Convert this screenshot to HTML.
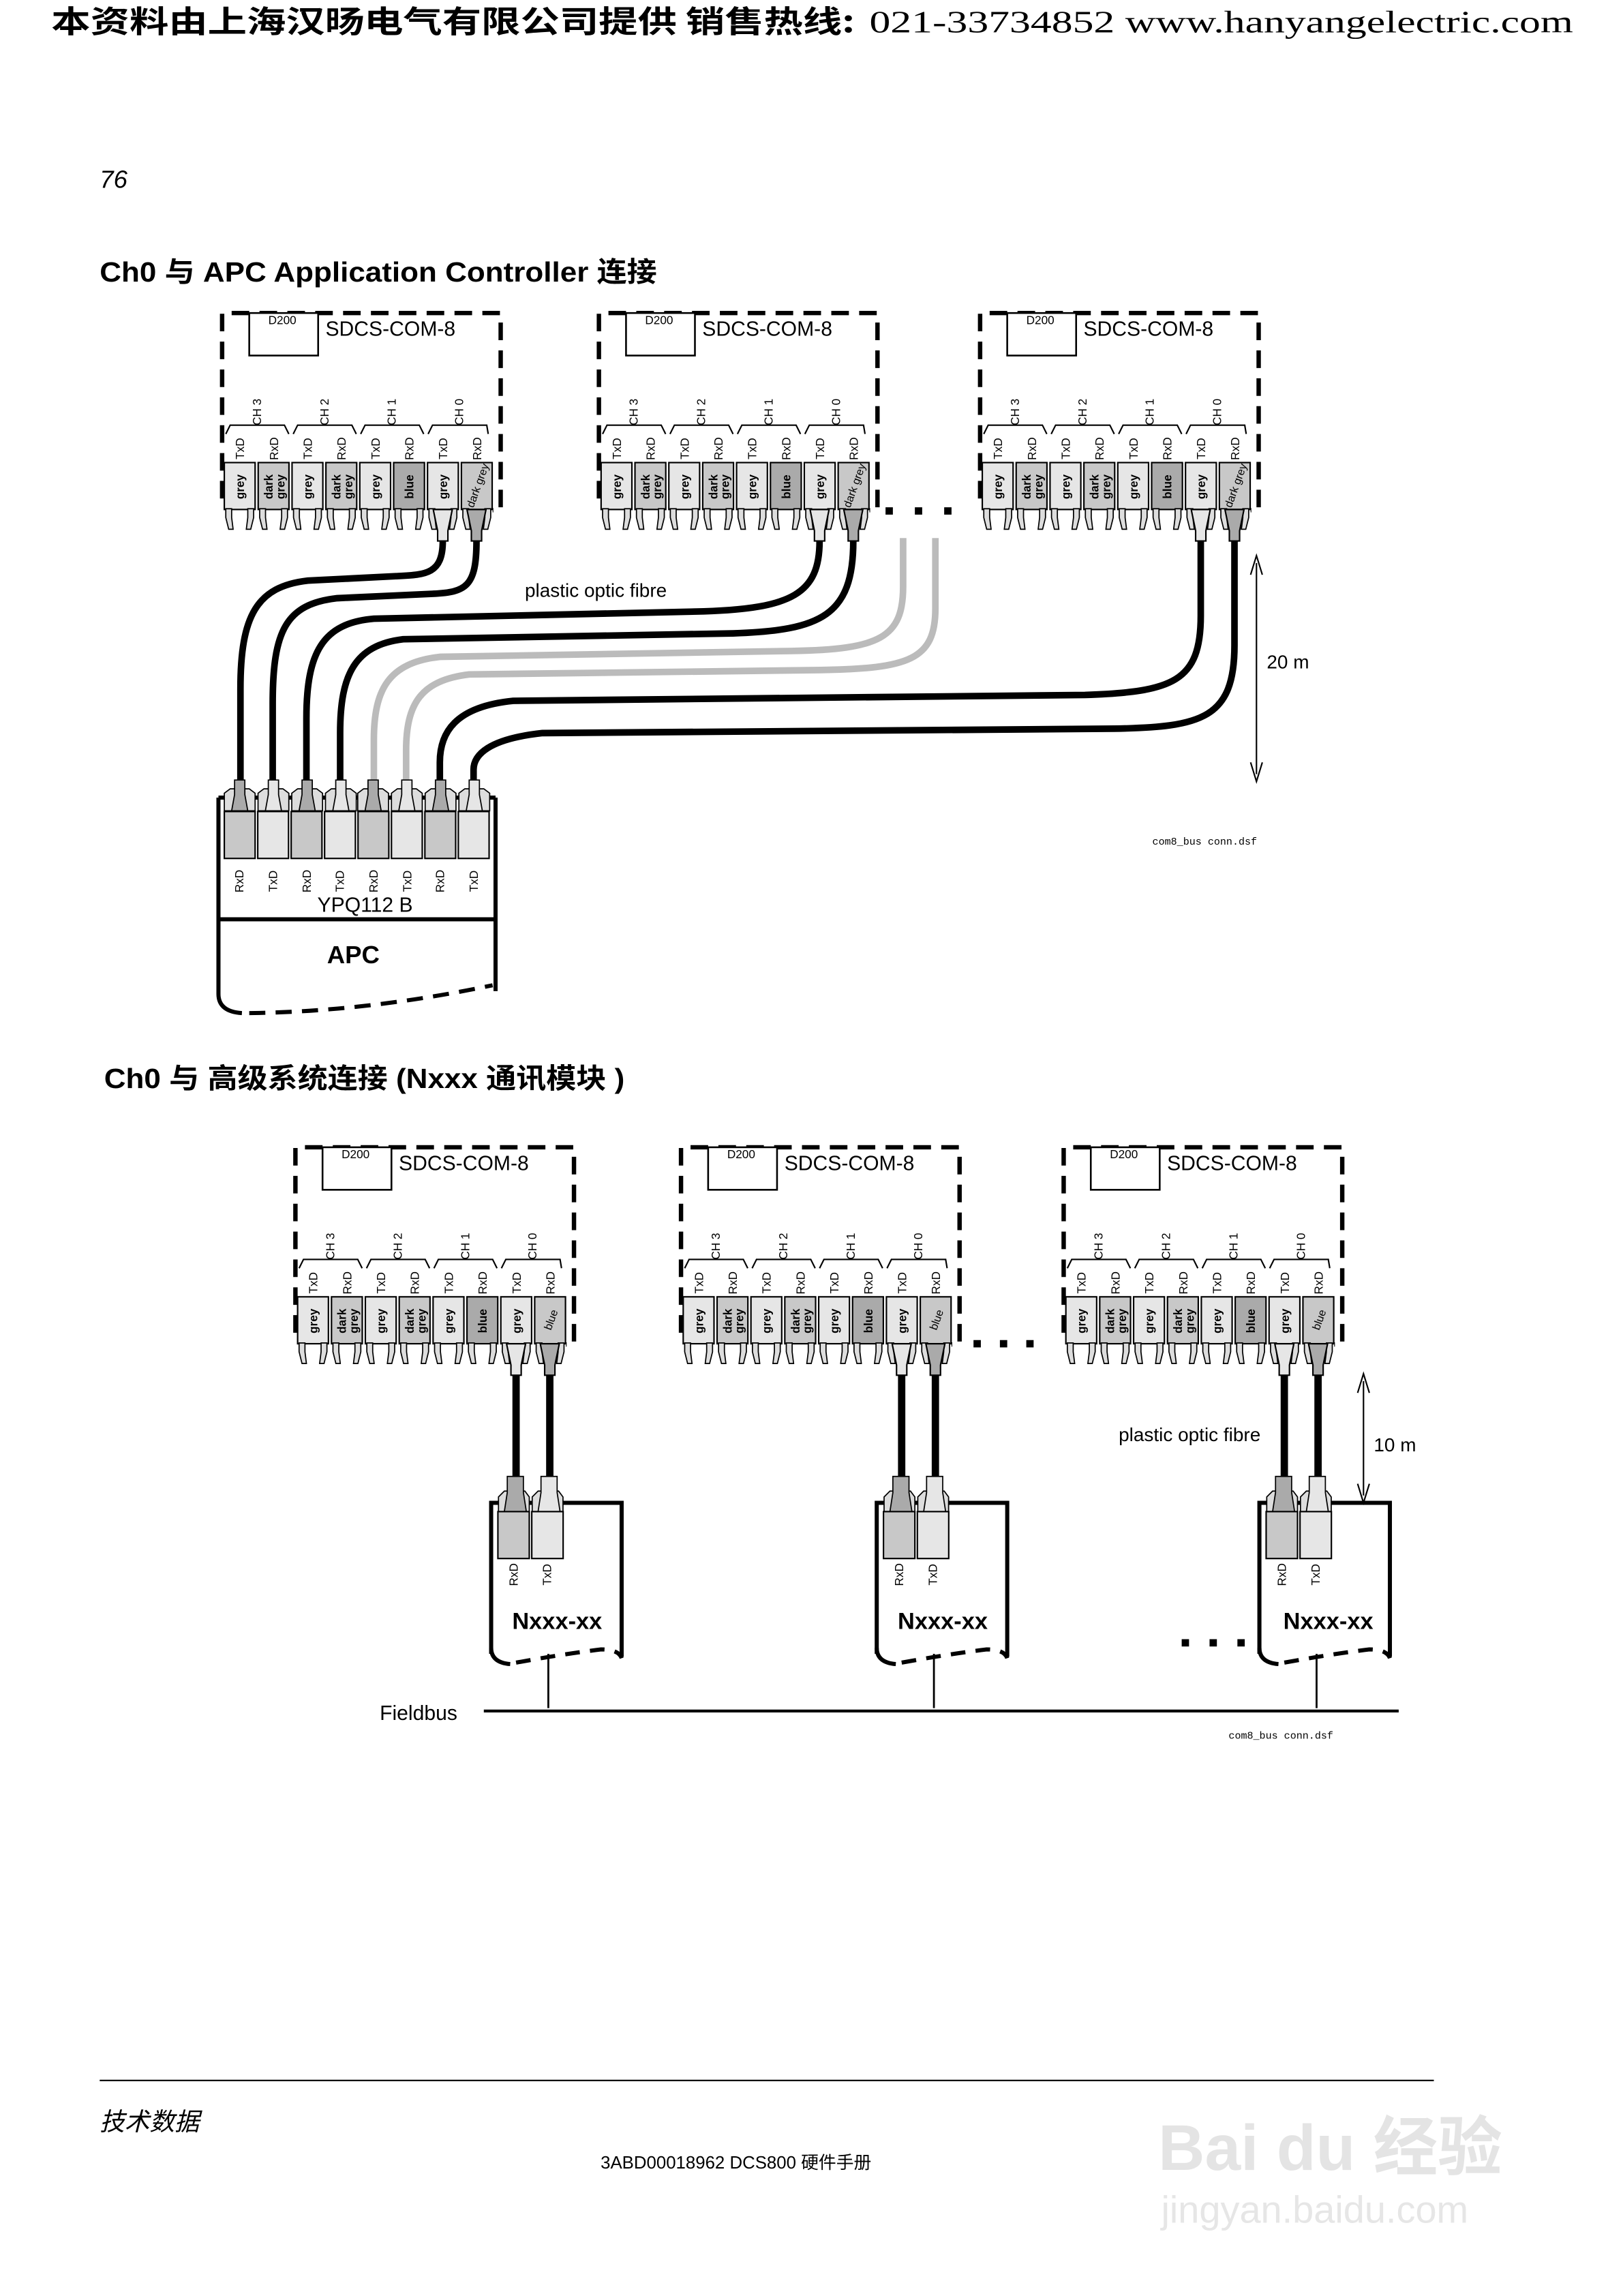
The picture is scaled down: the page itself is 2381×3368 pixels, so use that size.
<!DOCTYPE html>
<html><head><meta charset="utf-8"><style>
html,body{margin:0;padding:0;background:#fff}
svg{display:block}
text{font-family:"Liberation Sans","Noto Sans CJK SC",sans-serif;fill:#000}
.s8{font-size:8px}.s7{font-size:7.5px}
.b8{font-size:8px;font-weight:bold}
.s14{font-size:14px}
.ds{fill:none;stroke:#000;stroke-width:3;stroke-dasharray:12 7}
.blk{stroke:#000;stroke-width:1}
.leg{fill:#ddd;stroke:#000;stroke-width:0.8}
.br{fill:none;stroke:#000;stroke-width:1}
</style></head><body>
<svg width="2381" height="3368" viewBox="0 0 1107 1566" preserveAspectRatio="none" xmlns="http://www.w3.org/2000/svg">
<defs>
<g id="legs">
<path class="leg" d="M1 135 L5 135 L5 141 L6 149 L3 149 L1 141Z M16 135 L20 135 L20 141 L18 149 L15 149 L16 141Z"/>
</g>
<g id="modshape">
<path class="ds" d="M1.5 128 L1.5 1.5 L191.5 1.5 L191.5 136 L186 136"/>
<rect x="20" y="1.5" width="47" height="29" fill="#fff" stroke="#000" stroke-width="1.2"/>
<path class="br" d="M4 84 L7 78 L44 78 L47 84 M50 84 L53 78 L90 78 L93 84 M96 84 L99 78 L136 78 L139 84 M142 84 L145 78 L182 78 L183 84"/>
<rect class="blk" x="3" y="103.5" width="21" height="32" fill="#e6e6e6"/>
<rect class="blk" x="26.1" y="103.5" width="21" height="32" fill="#c8c8c8"/>
<rect class="blk" x="49.2" y="103.5" width="21" height="32" fill="#e6e6e6"/>
<rect class="blk" x="72.3" y="103.5" width="21" height="32" fill="#c8c8c8"/>
<rect class="blk" x="95.4" y="103.5" width="21" height="32" fill="#e6e6e6"/>
<rect class="blk" x="118.5" y="103.5" width="21" height="32" fill="#aaaaaa"/>
<rect class="blk" x="141.6" y="103.5" width="21" height="32" fill="#e6e6e6"/>
<rect class="blk" x="164.7" y="103.5" width="21" height="32" fill="#c8c8c8"/>
<use href="#legs" x="3"/><use href="#legs" x="26.1"/><use href="#legs" x="49.2"/><use href="#legs" x="72.3"/>
<use href="#legs" x="95.4"/><use href="#legs" x="118.5"/><use href="#legs" x="141.6"/><use href="#legs" x="164.7"/>
<path d="M145.5 135.5 L158.5 135.5 L155.5 150 L155.5 157 L148.5 157 L148.5 150Z" fill="#e6e6e6" stroke="#000" stroke-width="1"/>
<path d="M168.5 135.5 L181.5 135.5 L178.5 150 L178.5 157 L171.5 157 L171.5 150Z" fill="#aaaaaa" stroke="#000" stroke-width="1"/>
</g>
</defs>

<!-- header -->
<text x="35" y="22" style="font-size:21px;font-weight:bold;font-family:'Noto Sans CJK SC',sans-serif" textLength="548" lengthAdjust="spacingAndGlyphs">本资料由上海汉旸电气有限公司提供 销售热线:</text>
<text x="593" y="22" style="font-size:21px;font-family:'Liberation Serif',serif" textLength="480" lengthAdjust="spacingAndGlyphs">021-33734852   www.hanyangelectric.com</text>

<text x="68" y="128" style="font-size:17px;font-style:italic">76</text>
<text x="68" y="192" style="font-size:19px;font-weight:bold" textLength="380" lengthAdjust="spacingAndGlyphs">Ch0 与 APC Application Controller 连接</text>
<text x="71" y="742" style="font-size:19px;font-weight:bold" textLength="355" lengthAdjust="spacingAndGlyphs">Ch0 与 高级系统连接 (Nxxx 通讯模块 )</text>

<!-- TOP MODULES -->
<g transform="translate(150,212)">
<use href="#modshape"/>
<text x="33" y="9" class="s8">D200</text><text x="72" y="17" class="s14">SDCS-COM-8</text>
<text class="s8" text-anchor="middle" transform="translate(28,69) rotate(-90)">CH 3</text>
<text class="s8" text-anchor="middle" transform="translate(74,69) rotate(-90)">CH 2</text>
<text class="s8" text-anchor="middle" transform="translate(120,69) rotate(-90)">CH 1</text>
<text class="s8" text-anchor="middle" transform="translate(166,69) rotate(-90)">CH 0</text>
<text class="s8" text-anchor="middle" transform="translate(16.5,94) rotate(-90)">TxD</text>
<text class="s8" text-anchor="middle" transform="translate(39.6,94) rotate(-90)">RxD</text>
<text class="s8" text-anchor="middle" transform="translate(62.7,94) rotate(-90)">TxD</text>
<text class="s8" text-anchor="middle" transform="translate(85.8,94) rotate(-90)">RxD</text>
<text class="s8" text-anchor="middle" transform="translate(108.9,94) rotate(-90)">TxD</text>
<text class="s8" text-anchor="middle" transform="translate(132,94) rotate(-90)">RxD</text>
<text class="s8" text-anchor="middle" transform="translate(155.1,94) rotate(-90)">TxD</text>
<text class="s8" text-anchor="middle" transform="translate(178.2,94) rotate(-90)">RxD</text>
<text class="b8" text-anchor="middle" transform="translate(16.5,120) rotate(-90)">grey</text>
<text class="b8" text-anchor="middle" transform="translate(36,120) rotate(-90)">dark</text><text class="b8" text-anchor="middle" transform="translate(44,120) rotate(-90)">grey</text>
<text class="b8" text-anchor="middle" transform="translate(62.7,120) rotate(-90)">grey</text>
<text class="b8" text-anchor="middle" transform="translate(82.3,120) rotate(-90)">dark</text><text class="b8" text-anchor="middle" transform="translate(90.3,120) rotate(-90)">grey</text>
<text class="b8" text-anchor="middle" transform="translate(108.9,120) rotate(-90)">grey</text>
<text class="b8" text-anchor="middle" transform="translate(132,120) rotate(-90)">blue</text>
<text class="b8" text-anchor="middle" transform="translate(155.1,120) rotate(-90)">grey</text>
<text class="s7" text-anchor="middle" transform="translate(178.2,120) rotate(-70)">dark grey</text>
</g>
<g transform="translate(407,212)">
<use href="#modshape"/>
<text x="33" y="9" class="s8">D200</text><text x="72" y="17" class="s14">SDCS-COM-8</text>
<text class="s8" text-anchor="middle" transform="translate(28,69) rotate(-90)">CH 3</text>
<text class="s8" text-anchor="middle" transform="translate(74,69) rotate(-90)">CH 2</text>
<text class="s8" text-anchor="middle" transform="translate(120,69) rotate(-90)">CH 1</text>
<text class="s8" text-anchor="middle" transform="translate(166,69) rotate(-90)">CH 0</text>
<text class="s8" text-anchor="middle" transform="translate(16.5,94) rotate(-90)">TxD</text>
<text class="s8" text-anchor="middle" transform="translate(39.6,94) rotate(-90)">RxD</text>
<text class="s8" text-anchor="middle" transform="translate(62.7,94) rotate(-90)">TxD</text>
<text class="s8" text-anchor="middle" transform="translate(85.8,94) rotate(-90)">RxD</text>
<text class="s8" text-anchor="middle" transform="translate(108.9,94) rotate(-90)">TxD</text>
<text class="s8" text-anchor="middle" transform="translate(132,94) rotate(-90)">RxD</text>
<text class="s8" text-anchor="middle" transform="translate(155.1,94) rotate(-90)">TxD</text>
<text class="s8" text-anchor="middle" transform="translate(178.2,94) rotate(-90)">RxD</text>
<text class="b8" text-anchor="middle" transform="translate(16.5,120) rotate(-90)">grey</text>
<text class="b8" text-anchor="middle" transform="translate(36,120) rotate(-90)">dark</text><text class="b8" text-anchor="middle" transform="translate(44,120) rotate(-90)">grey</text>
<text class="b8" text-anchor="middle" transform="translate(62.7,120) rotate(-90)">grey</text>
<text class="b8" text-anchor="middle" transform="translate(82.3,120) rotate(-90)">dark</text><text class="b8" text-anchor="middle" transform="translate(90.3,120) rotate(-90)">grey</text>
<text class="b8" text-anchor="middle" transform="translate(108.9,120) rotate(-90)">grey</text>
<text class="b8" text-anchor="middle" transform="translate(132,120) rotate(-90)">blue</text>
<text class="b8" text-anchor="middle" transform="translate(155.1,120) rotate(-90)">grey</text>
<text class="s7" text-anchor="middle" transform="translate(178.2,120) rotate(-70)">dark grey</text>
</g>
<g transform="translate(667,212)">
<use href="#modshape"/>
<text x="33" y="9" class="s8">D200</text><text x="72" y="17" class="s14">SDCS-COM-8</text>
<text class="s8" text-anchor="middle" transform="translate(28,69) rotate(-90)">CH 3</text>
<text class="s8" text-anchor="middle" transform="translate(74,69) rotate(-90)">CH 2</text>
<text class="s8" text-anchor="middle" transform="translate(120,69) rotate(-90)">CH 1</text>
<text class="s8" text-anchor="middle" transform="translate(166,69) rotate(-90)">CH 0</text>
<text class="s8" text-anchor="middle" transform="translate(16.5,94) rotate(-90)">TxD</text>
<text class="s8" text-anchor="middle" transform="translate(39.6,94) rotate(-90)">RxD</text>
<text class="s8" text-anchor="middle" transform="translate(62.7,94) rotate(-90)">TxD</text>
<text class="s8" text-anchor="middle" transform="translate(85.8,94) rotate(-90)">RxD</text>
<text class="s8" text-anchor="middle" transform="translate(108.9,94) rotate(-90)">TxD</text>
<text class="s8" text-anchor="middle" transform="translate(132,94) rotate(-90)">RxD</text>
<text class="s8" text-anchor="middle" transform="translate(155.1,94) rotate(-90)">TxD</text>
<text class="s8" text-anchor="middle" transform="translate(178.2,94) rotate(-90)">RxD</text>
<text class="b8" text-anchor="middle" transform="translate(16.5,120) rotate(-90)">grey</text>
<text class="b8" text-anchor="middle" transform="translate(36,120) rotate(-90)">dark</text><text class="b8" text-anchor="middle" transform="translate(44,120) rotate(-90)">grey</text>
<text class="b8" text-anchor="middle" transform="translate(62.7,120) rotate(-90)">grey</text>
<text class="b8" text-anchor="middle" transform="translate(82.3,120) rotate(-90)">dark</text><text class="b8" text-anchor="middle" transform="translate(90.3,120) rotate(-90)">grey</text>
<text class="b8" text-anchor="middle" transform="translate(108.9,120) rotate(-90)">grey</text>
<text class="b8" text-anchor="middle" transform="translate(132,120) rotate(-90)">blue</text>
<text class="b8" text-anchor="middle" transform="translate(155.1,120) rotate(-90)">grey</text>
<text class="s7" text-anchor="middle" transform="translate(178.2,120) rotate(-70)">dark grey</text>
</g>
<g fill="#000"><rect x="604" y="346" width="5" height="5"/><rect x="624" y="346" width="5" height="5"/><rect x="644" y="346" width="5" height="5"/></g>

<!-- cables top -->
<g fill="none" stroke-width="4.5" stroke-linecap="butt">
<path stroke="#000" d="M302 369 C302 392, 290 392, 270 393 L210 396 C175 400, 164 420, 164 470 L164 532"/>
<path stroke="#000" d="M325 369 C325 400, 318 404, 295 405 L230 408 C195 412, 186 430, 186 480 L186 532"/>
<path stroke="#000" d="M559 369 C559 405, 540 415, 480 417 L255 422 C220 425, 209 445, 209 490 L209 532"/>
<path stroke="#000" d="M582 369 C582 420, 560 430, 500 432 L275 436 C242 440, 232 460, 232 500 L232 532"/>
<path stroke="#bbb" d="M616 367 L616 400 C616 435, 600 443, 540 444 L300 448 C265 452, 255 470, 255 505 L255 532"/>
<path stroke="#bbb" d="M638 367 L638 415 C638 450, 620 456, 560 457 L320 460 C287 464, 277 480, 277 512 L277 532"/>
<path stroke="#000" d="M819 369 L819 420 C819 465, 800 472, 740 474 L350 478 C310 482, 300 500, 300 520 L300 532"/>
<path stroke="#000" d="M842 369 L842 440 C842 490, 820 496, 760 497 L370 500 C333 504, 323 515, 323 525 L323 532"/>
</g>
<text x="358" y="407" style="font-size:13px">plastic optic fibre</text>
<line x1="857" y1="384" x2="857" y2="528" stroke="#000" stroke-width="1"/>
<path d="M853 392 L857 379 L861 392 M853 520 L857 533 L861 520" fill="none" stroke="#000" stroke-width="1"/>
<text x="864" y="456" style="font-size:13px">20 m</text>
<text x="786" y="576" style="font-size:7px;font-family:'Liberation Mono',monospace">com8_bus conn.dsf</text>

<!-- APC -->
<g stroke="#000" fill="none" stroke-width="2.8">
<path d="M149 544 L338 544"/>
<path d="M149 544 L149 678 Q149 690 165 691"/>
<path d="M338 544 L338 676"/>
<path d="M170 691 Q250 690 336 672" stroke-dasharray="11 7"/>
<path d="M149 627 L338 627"/>
</g>
<g>
<path d="M153 553 L153 541 L157 538 L170 538 L174 541 L174 553Z M176 553 L176 541 L180 538 L193 538 L197 541 L197 553Z M199 553 L199 541 L203 538 L216 538 L220 541 L220 553Z M222 553 L222 541 L226 538 L239 538 L243 541 L243 553Z M244 553 L244 541 L248 538 L261 538 L265 541 L265 553Z M267 553 L267 541 L271 538 L284 538 L288 541 L288 553Z M290 553 L290 541 L294 538 L307 538 L311 541 L311 553Z M313 553 L313 541 L317 538 L330 538 L334 541 L334 553Z" fill="#ddd" stroke="#000" stroke-width="0.8"/>
<g stroke="#000" stroke-width="0.8">
<path d="M158 553 L160 542 L160 532 L167 532 L167 542 L169 553Z" fill="#aaa"/>
<path d="M181 553 L183 542 L183 532 L190 532 L190 542 L192 553Z" fill="#e6e6e6"/>
<path d="M204 553 L206 542 L206 532 L213 532 L213 542 L215 553Z" fill="#aaa"/>
<path d="M227 553 L229 542 L229 532 L236 532 L236 542 L238 553Z" fill="#e6e6e6"/>
<path d="M249 553 L251 542 L251 532 L258 532 L258 542 L260 553Z" fill="#aaa"/>
<path d="M272 553 L274 542 L274 532 L281 532 L281 542 L283 553Z" fill="#e6e6e6"/>
<path d="M295 553 L297 542 L297 532 L304 532 L304 542 L306 553Z" fill="#aaa"/>
<path d="M318 553 L320 542 L320 532 L327 532 L327 542 L329 553Z" fill="#e6e6e6"/>
</g>
<rect class="blk" x="153" y="553.5" width="21" height="32" fill="#c8c8c8"/>
<rect class="blk" x="175.8" y="553.5" width="21" height="32" fill="#e6e6e6"/>
<rect class="blk" x="198.6" y="553.5" width="21" height="32" fill="#c8c8c8"/>
<rect class="blk" x="221.4" y="553.5" width="21" height="32" fill="#e6e6e6"/>
<rect class="blk" x="244.2" y="553.5" width="21" height="32" fill="#c8c8c8"/>
<rect class="blk" x="267" y="553.5" width="21" height="32" fill="#e6e6e6"/>
<rect class="blk" x="289.8" y="553.5" width="21" height="32" fill="#c8c8c8"/>
<rect class="blk" x="312.6" y="553.5" width="21" height="32" fill="#e6e6e6"/>
</g>
<text class="s8" text-anchor="middle" transform="translate(166,601) rotate(-90)">RxD</text>
<text class="s8" text-anchor="middle" transform="translate(189,601) rotate(-90)">TxD</text>
<text class="s8" text-anchor="middle" transform="translate(212,601) rotate(-90)">RxD</text>
<text class="s8" text-anchor="middle" transform="translate(234.5,601) rotate(-90)">TxD</text>
<text class="s8" text-anchor="middle" transform="translate(257.5,601) rotate(-90)">RxD</text>
<text class="s8" text-anchor="middle" transform="translate(280.5,601) rotate(-90)">TxD</text>
<text class="s8" text-anchor="middle" transform="translate(303,601) rotate(-90)">RxD</text>
<text class="s8" text-anchor="middle" transform="translate(326,601) rotate(-90)">TxD</text>
<text x="249" y="622" text-anchor="middle" style="font-size:14px">YPQ112 B</text>
<text x="241" y="657" text-anchor="middle" style="font-size:17px;font-weight:bold">APC</text>

<!-- BOTTOM MODULES -->
<g transform="translate(200,781)">
<use href="#modshape"/>
<text x="33" y="9" class="s8">D200</text><text x="72" y="17" class="s14">SDCS-COM-8</text>
<text class="s8" text-anchor="middle" transform="translate(28,69) rotate(-90)">CH 3</text>
<text class="s8" text-anchor="middle" transform="translate(74,69) rotate(-90)">CH 2</text>
<text class="s8" text-anchor="middle" transform="translate(120,69) rotate(-90)">CH 1</text>
<text class="s8" text-anchor="middle" transform="translate(166,69) rotate(-90)">CH 0</text>
<text class="s8" text-anchor="middle" transform="translate(16.5,94) rotate(-90)">TxD</text>
<text class="s8" text-anchor="middle" transform="translate(39.6,94) rotate(-90)">RxD</text>
<text class="s8" text-anchor="middle" transform="translate(62.7,94) rotate(-90)">TxD</text>
<text class="s8" text-anchor="middle" transform="translate(85.8,94) rotate(-90)">RxD</text>
<text class="s8" text-anchor="middle" transform="translate(108.9,94) rotate(-90)">TxD</text>
<text class="s8" text-anchor="middle" transform="translate(132,94) rotate(-90)">RxD</text>
<text class="s8" text-anchor="middle" transform="translate(155.1,94) rotate(-90)">TxD</text>
<text class="s8" text-anchor="middle" transform="translate(178.2,94) rotate(-90)">RxD</text>
<text class="b8" text-anchor="middle" transform="translate(16.5,120) rotate(-90)">grey</text>
<text class="b8" text-anchor="middle" transform="translate(36,120) rotate(-90)">dark</text><text class="b8" text-anchor="middle" transform="translate(44,120) rotate(-90)">grey</text>
<text class="b8" text-anchor="middle" transform="translate(62.7,120) rotate(-90)">grey</text>
<text class="b8" text-anchor="middle" transform="translate(82.3,120) rotate(-90)">dark</text><text class="b8" text-anchor="middle" transform="translate(90.3,120) rotate(-90)">grey</text>
<text class="b8" text-anchor="middle" transform="translate(108.9,120) rotate(-90)">grey</text>
<text class="b8" text-anchor="middle" transform="translate(132,120) rotate(-90)">blue</text>
<text class="b8" text-anchor="middle" transform="translate(155.1,120) rotate(-90)">grey</text>
<text class="s7" text-anchor="middle" transform="translate(178.2,120) rotate(-70)">blue</text>
</g>
<g transform="translate(463,781)">
<use href="#modshape"/>
<text x="33" y="9" class="s8">D200</text><text x="72" y="17" class="s14">SDCS-COM-8</text>
<text class="s8" text-anchor="middle" transform="translate(28,69) rotate(-90)">CH 3</text>
<text class="s8" text-anchor="middle" transform="translate(74,69) rotate(-90)">CH 2</text>
<text class="s8" text-anchor="middle" transform="translate(120,69) rotate(-90)">CH 1</text>
<text class="s8" text-anchor="middle" transform="translate(166,69) rotate(-90)">CH 0</text>
<text class="s8" text-anchor="middle" transform="translate(16.5,94) rotate(-90)">TxD</text>
<text class="s8" text-anchor="middle" transform="translate(39.6,94) rotate(-90)">RxD</text>
<text class="s8" text-anchor="middle" transform="translate(62.7,94) rotate(-90)">TxD</text>
<text class="s8" text-anchor="middle" transform="translate(85.8,94) rotate(-90)">RxD</text>
<text class="s8" text-anchor="middle" transform="translate(108.9,94) rotate(-90)">TxD</text>
<text class="s8" text-anchor="middle" transform="translate(132,94) rotate(-90)">RxD</text>
<text class="s8" text-anchor="middle" transform="translate(155.1,94) rotate(-90)">TxD</text>
<text class="s8" text-anchor="middle" transform="translate(178.2,94) rotate(-90)">RxD</text>
<text class="b8" text-anchor="middle" transform="translate(16.5,120) rotate(-90)">grey</text>
<text class="b8" text-anchor="middle" transform="translate(36,120) rotate(-90)">dark</text><text class="b8" text-anchor="middle" transform="translate(44,120) rotate(-90)">grey</text>
<text class="b8" text-anchor="middle" transform="translate(62.7,120) rotate(-90)">grey</text>
<text class="b8" text-anchor="middle" transform="translate(82.3,120) rotate(-90)">dark</text><text class="b8" text-anchor="middle" transform="translate(90.3,120) rotate(-90)">grey</text>
<text class="b8" text-anchor="middle" transform="translate(108.9,120) rotate(-90)">grey</text>
<text class="b8" text-anchor="middle" transform="translate(132,120) rotate(-90)">blue</text>
<text class="b8" text-anchor="middle" transform="translate(155.1,120) rotate(-90)">grey</text>
<text class="s7" text-anchor="middle" transform="translate(178.2,120) rotate(-70)">blue</text>
</g>
<g transform="translate(724,781)">
<use href="#modshape"/>
<text x="33" y="9" class="s8">D200</text><text x="72" y="17" class="s14">SDCS-COM-8</text>
<text class="s8" text-anchor="middle" transform="translate(28,69) rotate(-90)">CH 3</text>
<text class="s8" text-anchor="middle" transform="translate(74,69) rotate(-90)">CH 2</text>
<text class="s8" text-anchor="middle" transform="translate(120,69) rotate(-90)">CH 1</text>
<text class="s8" text-anchor="middle" transform="translate(166,69) rotate(-90)">CH 0</text>
<text class="s8" text-anchor="middle" transform="translate(16.5,94) rotate(-90)">TxD</text>
<text class="s8" text-anchor="middle" transform="translate(39.6,94) rotate(-90)">RxD</text>
<text class="s8" text-anchor="middle" transform="translate(62.7,94) rotate(-90)">TxD</text>
<text class="s8" text-anchor="middle" transform="translate(85.8,94) rotate(-90)">RxD</text>
<text class="s8" text-anchor="middle" transform="translate(108.9,94) rotate(-90)">TxD</text>
<text class="s8" text-anchor="middle" transform="translate(132,94) rotate(-90)">RxD</text>
<text class="s8" text-anchor="middle" transform="translate(155.1,94) rotate(-90)">TxD</text>
<text class="s8" text-anchor="middle" transform="translate(178.2,94) rotate(-90)">RxD</text>
<text class="b8" text-anchor="middle" transform="translate(16.5,120) rotate(-90)">grey</text>
<text class="b8" text-anchor="middle" transform="translate(36,120) rotate(-90)">dark</text><text class="b8" text-anchor="middle" transform="translate(44,120) rotate(-90)">grey</text>
<text class="b8" text-anchor="middle" transform="translate(62.7,120) rotate(-90)">grey</text>
<text class="b8" text-anchor="middle" transform="translate(82.3,120) rotate(-90)">dark</text><text class="b8" text-anchor="middle" transform="translate(90.3,120) rotate(-90)">grey</text>
<text class="b8" text-anchor="middle" transform="translate(108.9,120) rotate(-90)">grey</text>
<text class="b8" text-anchor="middle" transform="translate(132,120) rotate(-90)">blue</text>
<text class="b8" text-anchor="middle" transform="translate(155.1,120) rotate(-90)">grey</text>
<text class="s7" text-anchor="middle" transform="translate(178.2,120) rotate(-70)">blue</text>
</g>
<g fill="#000"><rect x="664" y="914" width="5" height="5"/><rect x="682" y="914" width="5" height="5"/><rect x="700" y="914" width="5" height="5"/></g>

<!-- Nxxx boxes -->
<g id="nx1">
<path d="M352 938 L352 1010 M375 938 L375 1010" stroke="#000" stroke-width="5"/>
<path d="M335 1128 L335 1025 L424 1025 L424 1130" fill="none" stroke="#000" stroke-width="2.8"/>
<path d="M335 1124 Q335 1134 348 1135" fill="none" stroke="#000" stroke-width="2.8"/>
<path d="M352 1134 Q385 1128 410 1125 Q422 1125 424 1131" fill="none" stroke="#000" stroke-width="2.8" stroke-dasharray="10 7"/>
<path d="M340 1031 L340 1021 L344 1017 L358 1017 L361 1021 L361 1031Z M363 1031 L363 1021 L367 1017 L381 1017 L384 1021 L384 1031Z" fill="#ddd" stroke="#000" stroke-width="0.8"/>
<path d="M344 1031 L346 1018 L346 1007 L357 1007 L357 1018 L359 1031Z" fill="#aaa" stroke="#000" stroke-width="0.8"/>
<path d="M367 1031 L369 1018 L369 1007 L380 1007 L380 1018 L382 1031Z" fill="#e6e6e6" stroke="#000" stroke-width="0.8"/>
<rect class="blk" x="339.6" y="1031" width="21.4" height="32" fill="#c8c8c8"/>
<rect class="blk" x="362.7" y="1031" width="21.4" height="32" fill="#e6e6e6"/>
<line x1="374" y1="1128" x2="374" y2="1165" stroke="#000" stroke-width="1.3"/>
</g>
<use href="#nx1" x="263"/>
<use href="#nx1" x="524"/>
<text class="s8" text-anchor="middle" transform="translate(353,1074) rotate(-90)">RxD</text>
<text class="s8" text-anchor="middle" transform="translate(376,1074) rotate(-90)">TxD</text>
<text class="s8" text-anchor="middle" transform="translate(616,1074) rotate(-90)">RxD</text>
<text class="s8" text-anchor="middle" transform="translate(639,1074) rotate(-90)">TxD</text>
<text class="s8" text-anchor="middle" transform="translate(877,1074) rotate(-90)">RxD</text>
<text class="s8" text-anchor="middle" transform="translate(900,1074) rotate(-90)">TxD</text>
<text x="380" y="1111" text-anchor="middle" style="font-size:16px;font-weight:bold">Nxxx-xx</text>
<text x="643" y="1111" text-anchor="middle" style="font-size:16px;font-weight:bold">Nxxx-xx</text>
<text x="906" y="1111" text-anchor="middle" style="font-size:16px;font-weight:bold">Nxxx-xx</text>
<g fill="#000"><rect x="806" y="1118" width="5" height="5"/><rect x="825" y="1118" width="5" height="5"/><rect x="844" y="1118" width="5" height="5"/></g>
<line x1="330" y1="1167" x2="954" y2="1167" stroke="#000" stroke-width="2"/>
<text x="259" y="1173" style="font-size:14px">Fieldbus</text>
<text x="763" y="983" style="font-size:13px">plastic optic fibre</text>
<line x1="930" y1="942" x2="930" y2="1020" stroke="#000" stroke-width="1"/>
<path d="M926 950 L930 937 L934 950 M926 1012 L930 1025 L934 1012" fill="none" stroke="#000" stroke-width="1"/>
<text x="937" y="990" style="font-size:13px">10 m</text>
<text x="838" y="1186" style="font-size:7px;font-family:'Liberation Mono',monospace">com8_bus conn.dsf</text>

<!-- footer -->
<line x1="68" y1="1419" x2="978" y2="1419" stroke="#000" stroke-width="1"/>
<text x="68" y="1453" style="font-size:17px;font-style:italic">技术数据</text>
<text x="502" y="1479" text-anchor="middle" style="font-size:12px">3ABD00018962 DCS800 硬件手册</text>
<text x="790" y="1480" style="font-size:44px;font-weight:bold;fill:#e4e4e4">Bai du 经验</text>
<text x="792" y="1516" style="font-size:26px;fill:#e6e6e6">jingyan.baidu.com</text>
</svg>
</body></html>
